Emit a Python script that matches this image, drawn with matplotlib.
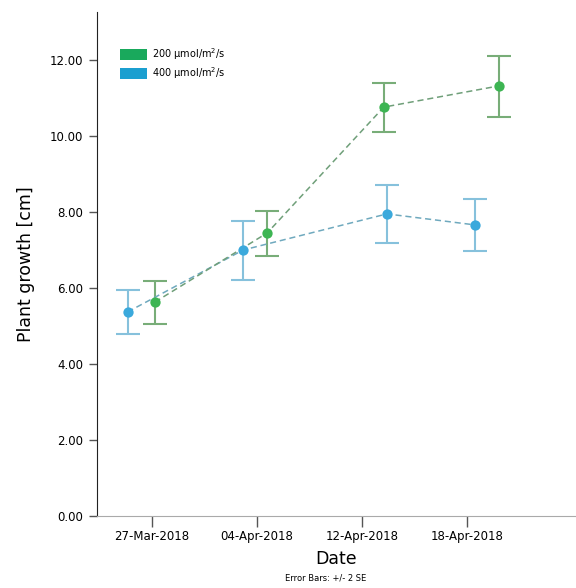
import matplotlib.pyplot as plt
from matplotlib.patches import Patch

# tick labels (evenly spaced on the axis)
dates = ["27-Mar-2018", "04-Apr-2018", "12-Apr-2018", "18-Apr-2018"]

# 200 umol series
x_200 = [0.03, 1.10, 2.21, 3.31]
y_200 = [5.63, 7.45, 10.76, 11.32]
lo_200 = [5.05, 6.84, 10.10, 10.50]
hi_200 = [6.18, 8.03, 11.39, 12.10]

# 400 umol series
x_400 = [-0.23, 0.87, 2.24, 3.08]
y_400 = [5.37, 7.00, 7.95, 7.66]
lo_400 = [4.79, 6.21, 7.18, 6.97]
hi_400 = [5.95, 7.76, 8.71, 8.34]

fig = plt.figure(figsize=(5.76, 5.88), dpi=100)
ax = fig.add_axes([0.168, 0.1224, 0.83, 0.857])

def draw(x, y, lo, hi, dot_col, bar_col, line_col):
    err = [[v - l for v, l in zip(y, lo)], [h - v for v, h in zip(y, hi)]]
    ax.errorbar(x, y, yerr=err, fmt="none", ecolor=bar_col, elinewidth=1.5,
                capsize=8.5, capthick=1.5, zorder=2)
    ax.plot(x, y, linestyle=(0, (4, 2.5)), color=line_col, linewidth=1.1, zorder=3)
    ax.scatter(x, y, s=55, color=dot_col, zorder=4, linewidths=0)

draw(x_400, y_400, lo_400, hi_400, "#3ba9dc", "#86c1dc", "#6fa9be")
draw(x_200, y_200, lo_200, hi_200, "#3db553", "#78ad78", "#6f9f79")

ax.set_xlim(-0.524, 4.03)
ax.set_ylim(0, 13.26)
ax.set_xticks(range(len(dates)))
ax.set_xticklabels(dates, fontsize=8.5)
ax.set_yticks([0, 2, 4, 6, 8, 10, 12])
ax.set_yticklabels([f"{v:.2f}" for v in [0, 2, 4, 6, 8, 10, 12]], fontsize=8.5)
ax.tick_params(axis="both", direction="out", length=6, width=1, color="#555555", pad=4)
ax.tick_params(axis="x", length=8, pad=2)

for s in ["top", "right"]:
    ax.spines[s].set_visible(False)
ax.spines["left"].set_color("#222222")
ax.spines["bottom"].set_color("#aaaaaa")

ax.set_ylabel("Plant growth [cm]", fontsize=12.5, labelpad=10)
ax.set_xlabel("Date", fontsize=12.5, labelpad=5)
fig.text(0.565, 0.012, "Error Bars: +/- 2 SE", fontsize=6, ha="center")

handles = [Patch(facecolor="#19a95c", label="200 μmol/m$^2$/s"),
           Patch(facecolor="#1b9fd0", label="400 μmol/m$^2$/s")]
ax.legend(handles=handles, loc="upper left", bbox_to_anchor=(0.03, 0.95),
          frameon=False, fontsize=7, handlelength=2.8, handleheight=1.3,
          handletextpad=0.5, labelspacing=0.3)

fig.savefig("out.png", dpi=100)
